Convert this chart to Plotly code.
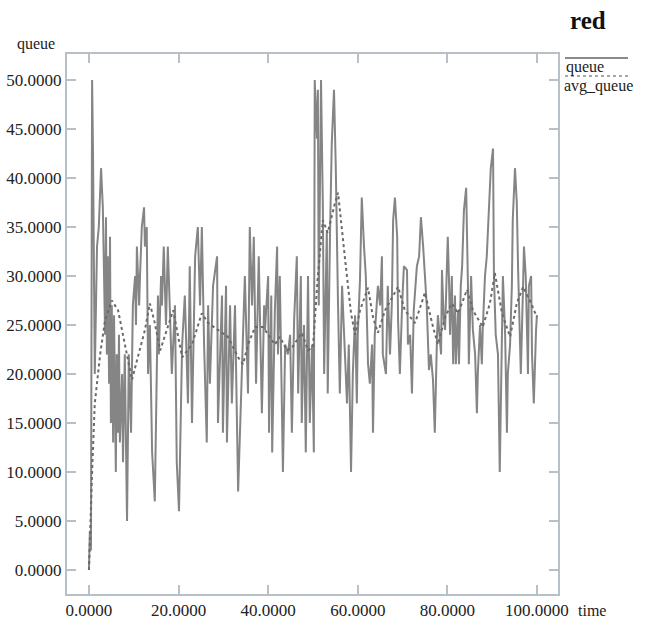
import plotly.graph_objects as go

# ---- data ----
queue_t = [0, 0.2, 0.45, 0.7, 0.9, 1.3, 1.8, 2.2, 2.7, 3.1, 3.6, 3.8, 4.0, 4.2, 4.5, 4.7, 4.9, 5.1, 5.4, 5.6,
           6.0, 6.2, 6.5, 6.7, 6.9, 7.4, 7.6, 8.0, 8.5, 8.9, 9.4, 9.8, 10.3, 10.5, 10.7, 11.2, 11.4, 11.8, 12.3, 12.5,
           12.9, 13.2, 13.6, 14.1, 14.7, 15.0, 15.4, 15.6, 16.1, 16.3, 16.7, 17.2, 17.6, 18.1, 18.5,
           19.2, 19.6, 20.1, 20.8, 21.4, 22.1, 22.5, 23.0, 23.7, 24.3, 24.8, 25.2, 25.7, 26.3, 26.6, 27.0, 27.7, 28.6,
           28.8, 29.7, 29.9, 30.6, 30.8, 31.5, 31.9, 32.6, 33.3, 34.2, 34.8, 35.5, 35.9, 36.4, 36.8, 37.3, 37.9, 38.6, 39.1,
           39.3, 40.0, 40.2, 40.7, 40.9, 41.5, 42.0, 42.2, 42.6, 43.1, 43.3, 43.8, 44.4, 44.9, 45.3, 45.8, 46.2, 46.4,
           46.7, 47.3, 47.5, 48.0, 48.4, 48.9, 49.3, 49.8, 50.2, 50.4, 50.9, 51.1, 51.3, 51.8, 52.2, 52.5, 53.1, 53.3,
           53.8, 54.2, 54.7, 55.1, 55.6, 56.0, 56.5, 56.9, 57.6, 58.0, 58.5, 58.9,
           59.4, 59.8, 60.0, 60.5, 60.9, 61.4, 61.8, 62.3, 62.7, 63.2, 63.4, 63.8, 64.5, 65.0, 65.4, 65.6, 66.3, 66.7,
           67.2, 67.6, 67.9, 68.3, 68.8, 69.0, 69.4, 69.9, 70.3, 71.0, 71.2, 71.7, 72.1, 72.5, 73.2, 73.7, 74.1, 74.6,
           75.0, 75.4, 75.9, 76.3, 76.8, 77.2, 77.7, 77.9, 78.6, 78.8, 79.2,
           79.5, 79.9, 80.1, 80.4, 80.6, 81.0, 81.3, 81.7, 81.9, 82.4, 82.6, 83.0, 83.3, 83.7, 84.2, 84.6, 84.8, 85.3,
           85.7, 86.2, 86.6, 86.8, 87.3, 87.7, 87.9, 88.4, 88.8, 89.1, 89.7, 90.2, 90.4, 90.8, 91.3, 91.7, 92.2, 92.4,
           92.9, 93.3, 93.5, 94.0, 94.4, 94.6, 95.1, 95.5, 95.8, 96.2, 96.4, 96.9, 97.1, 97.5, 98.0, 98.2, 98.7, 98.9,
           99.3, 99.8, 100.0]
queue_v = [0, 4, 2, 50, 43, 20, 33, 35, 41, 37, 24, 36, 22, 32, 19, 34, 15, 27, 13, 26,
           10, 22, 14, 24, 13, 20, 11, 22, 5, 22, 14, 27, 30, 25, 33, 27, 30, 35, 37, 33,
           35, 20, 25, 12, 7, 18, 28, 22, 30, 27, 33, 25, 33, 26, 20,
           27, 11, 6, 23, 28, 17, 31, 15, 32, 35, 27, 35, 23, 13, 27, 19, 29, 32,
           15, 28, 14, 29, 13, 27, 17, 27, 8, 20, 30, 18, 35, 27, 34, 19, 32, 16, 27,
           24.5, 30, 14, 28, 12, 26.5, 33, 22, 30, 17, 10, 23, 22, 24, 14, 25.5, 29, 32,
           18, 30, 15, 25, 12, 30, 15, 23, 12, 50, 44, 49, 27, 50, 37.5, 20, 34.7, 18,
           34, 43.5, 49, 41, 27, 18, 29, 24, 17, 23, 10, 20,
           26, 17, 24, 29.6, 38, 33, 30, 21, 19, 23, 14, 24, 29, 27, 32, 22, 20, 29,
           22, 27, 35.7, 38, 34, 25.5, 20, 27, 31, 30.6, 23, 24, 18, 26.5, 31, 32, 36, 33,
           30, 27, 20.4, 22, 19.4, 14, 24, 26, 22, 30.6, 25.5,
           24.5, 31, 34, 29, 24, 30, 21, 28, 21, 26.5, 21, 29, 31, 36.7, 39, 29, 21, 30,
           24.5, 22, 16, 20, 25, 21, 24.5, 30, 32, 35, 41, 43, 30, 24, 22, 10, 24, 30,
           24, 14, 20, 23, 29, 35.7, 41, 37.5, 30.6, 24, 20, 29, 33, 30, 20, 29, 30, 22,
           17, 24.5, 26]

avg_t = [0, 0.2, 0.7, 1.3, 2.5, 3.6, 5.1, 6.5, 8.0, 9.6, 10.9, 12.5, 13.6, 14.7, 15.9, 17.4, 18.8,
         20.8, 23.0, 25.2, 26.6, 28.8, 31.0, 33.3, 34.4, 35.5, 37.1, 38.8, 39.3, 41.5, 42.6, 44.2, 45.5,
         47.5, 48.9, 50.0, 51.1, 52.2, 53.3, 54.9, 55.6, 57.1, 58.5, 59.4, 60.5, 62.3, 63.4, 64.5, 66.1,
         69.0, 70.5, 72.8, 75.0, 76.8, 77.9, 79.5, 81.0, 82.4, 84.4, 85.7, 87.9, 89.5, 90.6, 92.2, 94.0,
         95.5, 96.9, 98.4, 100.0]
avg_v = [0, 3.4, 10, 17, 22, 25.5, 27.5, 26.5, 23, 19.4, 21.7, 24.5, 27.2, 25.2, 22.4, 24.5, 26.5,
         21.7, 23, 26.2, 25.2, 24.5, 23.8, 21.7, 21, 23, 24.8, 24.8, 24.5, 23, 23.8, 22.4, 22.8,
         24.2, 22.4, 22.8, 30, 35.7, 34.4, 37.4, 38.5, 32, 26.2, 24, 26.5, 28.8, 25.8, 24.2, 26.5,
         28.9, 26.5, 25.2, 28.3, 24.8, 23, 25.8, 27.2, 26.2, 28.6, 26.5, 24.8, 27.2, 30.3, 26.2, 23.8,
         27.2, 28.9, 27.5, 25.8]

x_ticks = [0, 20, 40, 60, 80, 100]
y_ticks = [0, 5, 10, 15, 20, 25, 30, 35, 40, 45, 50]

SERIF = "Liberation Serif"
FRAME = "#b7bfc8"
FS = 17

fig = go.Figure()
fig.add_trace(go.Scatter(x=queue_t, y=queue_v, mode="lines", name="queue",
                         line=dict(color="#858585", width=2), showlegend=False))
fig.add_trace(go.Scatter(x=avg_t, y=avg_v, mode="lines", name="avg_queue",
                         line=dict(color="#6a6a6a", width=2, dash="dot"), showlegend=False))

axis_common = dict(showgrid=False, zeroline=False, showline=True, linecolor=FRAME, linewidth=2,
                   mirror="ticks", ticks="inside", ticklen=9, tickwidth=2, tickcolor=FRAME,
                   automargin=False, tickformat=".4f",
                   tickfont=dict(family=SERIF, size=FS, color="#222"))

fig.update_layout(
    width=651, height=620,
    margin=dict(l=67, r=93, t=54, b=26),
    paper_bgcolor="white", plot_bgcolor="white",
    font=dict(family=SERIF, size=FS, color="#222"),
    xaxis=dict(range=[-4.9, 104.7], tickvals=x_ticks, **axis_common),
    yaxis=dict(range=[-2.45, 52.65], tickvals=y_ticks, **axis_common),
)

W, H = 491.0, 540.0
def px(p):
    return (p - 67) / W
def py(q):
    return (594 - q) / H

annots = [
    dict(text="<b>red</b>", x=px(588), y=py(20), font=dict(size=25, family=SERIF, color="#111"),
         xanchor="center", yanchor="middle"),
    dict(text="queue", x=px(36), y=py(44), font=dict(size=FS - 1, family=SERIF, color="#222"),
         xanchor="center", yanchor="middle"),
    dict(text="time", x=px(592), y=py(610), font=dict(size=FS - 1, family=SERIF, color="#222"),
         xanchor="center", yanchor="middle"),
    dict(text="queue", x=px(564), y=py(67), font=dict(size=FS - 1, family=SERIF, color="#222"),
         xanchor="left", yanchor="middle"),
    dict(text="avg_queue", x=px(562), y=py(86), font=dict(size=FS - 1, family=SERIF, color="#222"),
         xanchor="left", yanchor="middle"),
]
for a in annots:
    a.update(xref="paper", yref="paper", showarrow=False)
fig.update_layout(annotations=annots)

fig.update_layout(shapes=[
    dict(type="line", xref="paper", yref="paper", x0=px(565), x1=px(628), y0=py(58), y1=py(58),
         line=dict(color="#8a8a8a", width=2)),
    dict(type="line", xref="paper", yref="paper", x0=px(565), x1=px(628), y0=py(76), y1=py(76),
         line=dict(color="#8a8a8a", width=1.5, dash="dot")),
])

fig.write_html("out.html")
